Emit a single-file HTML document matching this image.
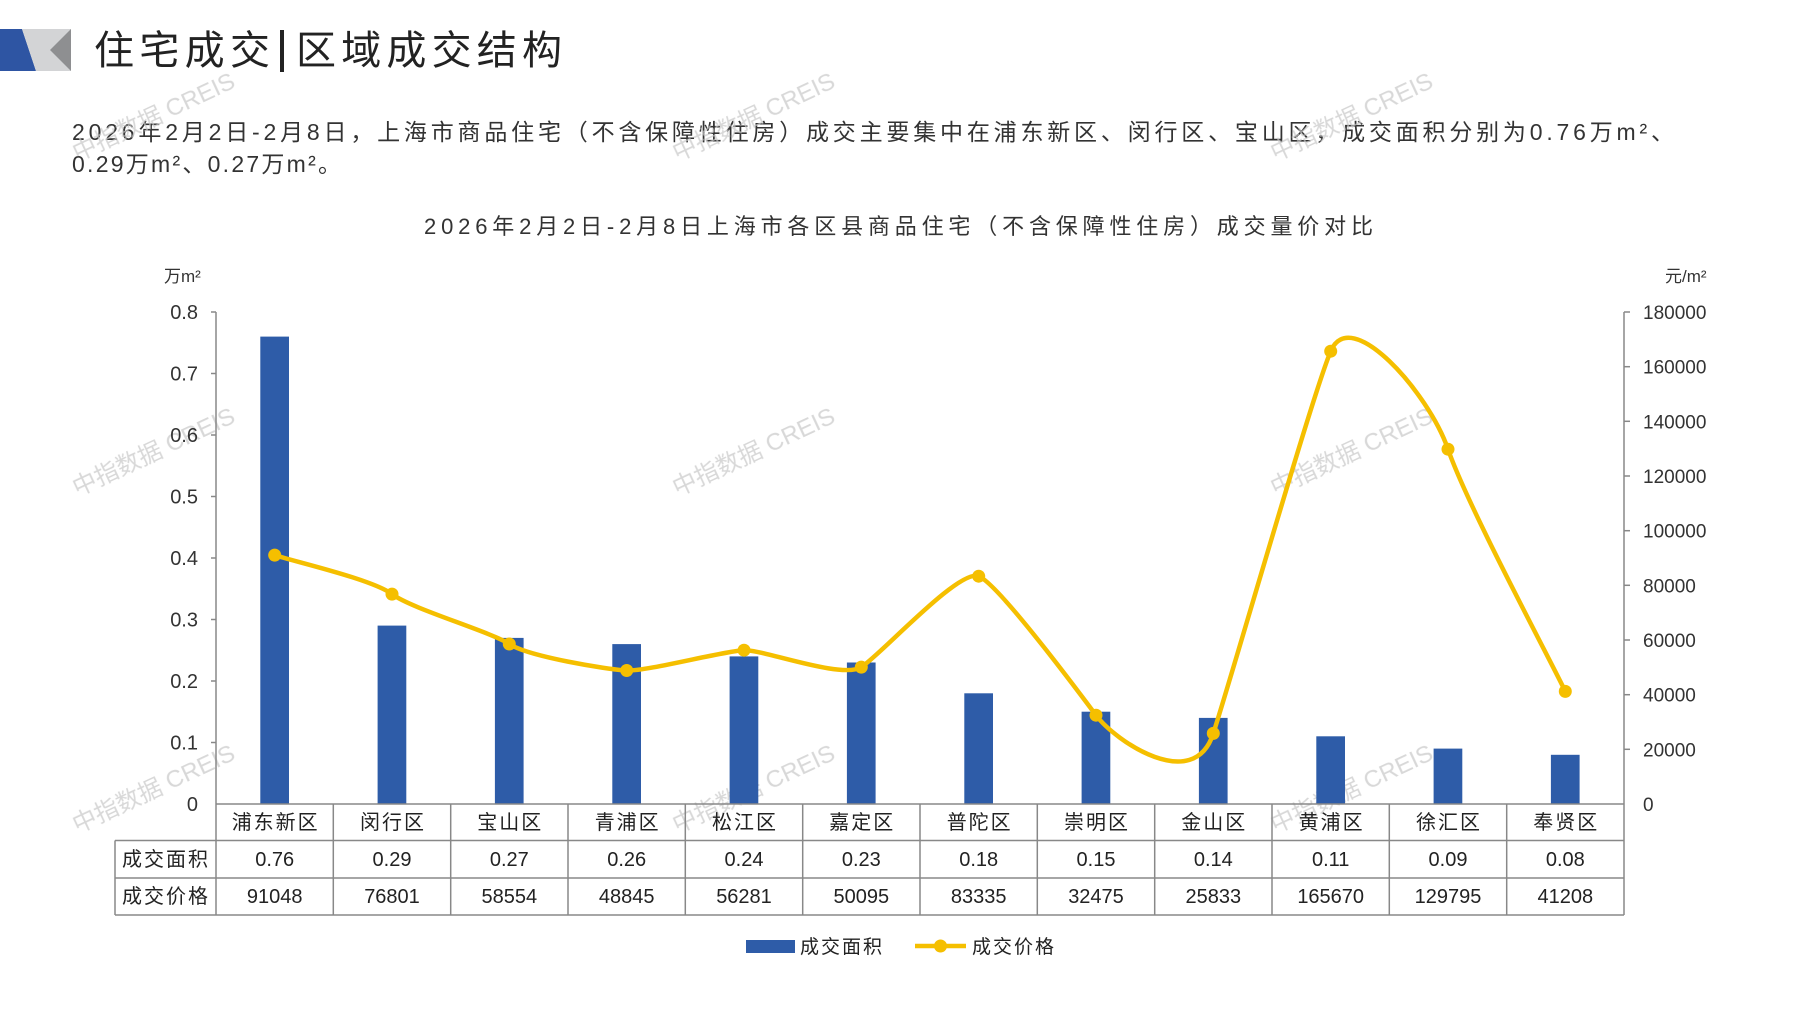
<!DOCTYPE html>
<html><head><meta charset="utf-8"><style>
html,body{margin:0;padding:0;background:#fff;}
body{width:1797px;height:1010px;overflow:hidden;font-family:"Liberation Sans","Noto Sans CJK SC",sans-serif;}
</style></head><body>
<svg width="1797" height="1010" viewBox="0 0 1797 1010" xmlns="http://www.w3.org/2000/svg" font-family="Liberation Sans, Noto Sans CJK SC, sans-serif">
<polygon points="0,29 22,29 36,71 0,71" fill="#2E55A3"/>
<polygon points="22,29 71,29 71,71 36,71" fill="#D3D4D6"/>
<polygon points="50,50 71,29 71,71" fill="#8E8F91"/>
<text x="94" y="64" font-size="40" fill="#222" font-family="Noto Sans CJK SC, sans-serif" textLength="176" lengthAdjust="spacing">住宅成交</text>
<rect x="280" y="30" width="4" height="42" fill="#222"/>
<text x="296" y="64" font-size="40" fill="#222" font-family="Noto Sans CJK SC, sans-serif" textLength="266" lengthAdjust="spacing">区域成交结构</text>
<text x="72" y="140" font-size="23" fill="#333" textLength="1602" lengthAdjust="spacing">2026年2月2日-2月8日，上海市商品住宅（不含保障性住房）成交主要集中在浦东新区、闵行区、宝山区，成交面积分别为0.76万m²、</text>
<text x="72" y="172" font-size="23" fill="#333" textLength="269" lengthAdjust="spacing">0.29万m²、0.27万m²。</text>
<text x="424" y="234" font-size="22" fill="#333" textLength="949" lengthAdjust="spacing">2026年2月2日-2月8日上海市各区县商品住宅（不含保障性住房）成交量价对比</text>
<g font-size="24" fill="#c8c8c8" opacity="0.7" text-anchor="middle">
<text transform="translate(157,124) rotate(-25)">中指数据 CREIS</text>
<text transform="translate(757,124) rotate(-25)">中指数据 CREIS</text>
<text transform="translate(1355,124) rotate(-25)">中指数据 CREIS</text>
<text transform="translate(157,459) rotate(-25)">中指数据 CREIS</text>
<text transform="translate(757,459) rotate(-25)">中指数据 CREIS</text>
<text transform="translate(1355,459) rotate(-25)">中指数据 CREIS</text>
<text transform="translate(157,796) rotate(-25)">中指数据 CREIS</text>
<text transform="translate(757,796) rotate(-25)">中指数据 CREIS</text>
<text transform="translate(1355,796) rotate(-25)">中指数据 CREIS</text>
</g>
<text x="164" y="282" font-size="17" fill="#333">万m²</text>
<text x="1665" y="282" font-size="17" fill="#333">元/m²</text>
<g stroke="#888" stroke-width="1.5">
<line x1="216" y1="312" x2="216" y2="804"/>
<line x1="211" y1="312" x2="216" y2="312"/><line x1="211" y1="373.5" x2="216" y2="373.5"/><line x1="211" y1="435" x2="216" y2="435"/><line x1="211" y1="496.5" x2="216" y2="496.5"/><line x1="211" y1="558" x2="216" y2="558"/><line x1="211" y1="619.5" x2="216" y2="619.5"/><line x1="211" y1="681" x2="216" y2="681"/><line x1="211" y1="742.5" x2="216" y2="742.5"/>
<line x1="1624" y1="312" x2="1624" y2="804"/>
<line x1="1624" y1="312" x2="1630" y2="312"/><line x1="1624" y1="366.7" x2="1630" y2="366.7"/><line x1="1624" y1="421.3" x2="1630" y2="421.3"/><line x1="1624" y1="476" x2="1630" y2="476"/><line x1="1624" y1="530.7" x2="1630" y2="530.7"/><line x1="1624" y1="585.3" x2="1630" y2="585.3"/><line x1="1624" y1="640" x2="1630" y2="640"/><line x1="1624" y1="694.7" x2="1630" y2="694.7"/><line x1="1624" y1="749.3" x2="1630" y2="749.3"/>
</g>
<g font-size="20" fill="#333" text-anchor="end">
<text x="198" y="319">0.8</text><text x="198" y="380.5">0.7</text><text x="198" y="442">0.6</text><text x="198" y="503.5">0.5</text><text x="198" y="565">0.4</text><text x="198" y="626.5">0.3</text><text x="198" y="688">0.2</text><text x="198" y="749.5">0.1</text><text x="198" y="811">0</text>
</g>
<g font-size="19" fill="#333" text-anchor="start">
<text x="1643" y="319">180000</text><text x="1643" y="373.7">160000</text><text x="1643" y="428.3">140000</text><text x="1643" y="483">120000</text><text x="1643" y="537.7">100000</text><text x="1643" y="592.3">80000</text><text x="1643" y="647">60000</text><text x="1643" y="701.7">40000</text><text x="1643" y="756.3">20000</text><text x="1643" y="811">0</text>
</g>
<g fill="#2E5CA8">
<rect x="260.3" y="336.6" width="28.7" height="467.4"/>
<rect x="377.6" y="625.6" width="28.7" height="178.4"/>
<rect x="494.9" y="637.9" width="28.7" height="166.1"/>
<rect x="612.3" y="644.1" width="28.7" height="159.9"/>
<rect x="729.6" y="656.4" width="28.7" height="147.6"/>
<rect x="846.9" y="662.5" width="28.7" height="141.5"/>
<rect x="964.3" y="693.3" width="28.7" height="110.7"/>
<rect x="1081.6" y="711.7" width="28.7" height="92.3"/>
<rect x="1198.9" y="717.9" width="28.7" height="86.1"/>
<rect x="1316.3" y="736.3" width="28.7" height="67.7"/>
<rect x="1433.6" y="748.6" width="28.7" height="55.4"/>
<rect x="1550.9" y="754.8" width="28.7" height="49.2"/>
</g>
<path d="M274.7,555.1 C294.3,561.6 372.4,579.3 392,594.1 C411.6,608.9 489.7,631.3 509.3,644.0 C528.9,656.7 607.1,669.5 626.7,670.5 C646.3,671.5 724.4,650.8 744,650.2 C763.6,649.6 841.7,679.4 861.3,667.1 C880.9,654.8 959.1,568.2 978.7,576.2 C998.3,584.2 1076.4,689.0 1096,715.2 C1115.6,741.4 1193.7,794.1 1213.3,733.4 C1232.9,672.7 1311.1,398.6 1330.7,351.2 C1350.3,303.8 1428.4,392.5 1448,449.2 C1467.6,505.9 1545.7,651.0 1565.3,691.4" fill="none" stroke="#F5BF00" stroke-width="4.5"/>
<g fill="#F5BF00">
<circle cx="274.7" cy="555.1" r="6.5"/><circle cx="392" cy="594.1" r="6.5"/><circle cx="509.3" cy="644" r="6.5"/><circle cx="626.7" cy="670.5" r="6.5"/><circle cx="744" cy="650.2" r="6.5"/><circle cx="861.3" cy="667.1" r="6.5"/><circle cx="978.7" cy="576.2" r="6.5"/><circle cx="1096" cy="715.2" r="6.5"/><circle cx="1213.3" cy="733.4" r="6.5"/><circle cx="1330.7" cy="351.2" r="6.5"/><circle cx="1448" cy="449.2" r="6.5"/><circle cx="1565.3" cy="691.4" r="6.5"/>
</g>
<g stroke="#888" stroke-width="1.5" fill="none">
<line x1="216" y1="804" x2="1624" y2="804"/>
<line x1="115" y1="840.5" x2="1624" y2="840.5"/>
<line x1="115" y1="878" x2="1624" y2="878"/>
<line x1="115" y1="915" x2="1624" y2="915"/>
<line x1="115" y1="840.5" x2="115" y2="915"/>
<line x1="216" y1="804" x2="216" y2="915"/><line x1="333.3" y1="804" x2="333.3" y2="915"/><line x1="450.7" y1="804" x2="450.7" y2="915"/><line x1="568" y1="804" x2="568" y2="915"/><line x1="685.3" y1="804" x2="685.3" y2="915"/><line x1="802.7" y1="804" x2="802.7" y2="915"/><line x1="920" y1="804" x2="920" y2="915"/><line x1="1037.3" y1="804" x2="1037.3" y2="915"/><line x1="1154.7" y1="804" x2="1154.7" y2="915"/><line x1="1272" y1="804" x2="1272" y2="915"/><line x1="1389.3" y1="804" x2="1389.3" y2="915"/><line x1="1506.7" y1="804" x2="1506.7" y2="915"/><line x1="1624" y1="804" x2="1624" y2="915"/>
</g>
<g font-size="20" fill="#222" text-anchor="middle" letter-spacing="2">
<text x="166" y="866">成交面积</text><text x="166" y="903">成交价格</text>
<text x="275.7" y="829">浦东新区</text><text x="393" y="829">闵行区</text><text x="510.3" y="829">宝山区</text><text x="627.7" y="829">青浦区</text><text x="745" y="829">松江区</text><text x="862.3" y="829">嘉定区</text><text x="979.7" y="829">普陀区</text><text x="1097" y="829">崇明区</text><text x="1214.3" y="829">金山区</text><text x="1331.7" y="829">黄浦区</text><text x="1449" y="829">徐汇区</text><text x="1566.3" y="829">奉贤区</text>
</g>
<g font-size="20" fill="#222" text-anchor="middle">
<text x="274.7" y="866">0.76</text><text x="392" y="866">0.29</text><text x="509.3" y="866">0.27</text><text x="626.7" y="866">0.26</text><text x="744" y="866">0.24</text><text x="861.3" y="866">0.23</text><text x="978.7" y="866">0.18</text><text x="1096" y="866">0.15</text><text x="1213.3" y="866">0.14</text><text x="1330.7" y="866">0.11</text><text x="1448" y="866">0.09</text><text x="1565.3" y="866">0.08</text>
<text x="274.7" y="903">91048</text><text x="392" y="903">76801</text><text x="509.3" y="903">58554</text><text x="626.7" y="903">48845</text><text x="744" y="903">56281</text><text x="861.3" y="903">50095</text><text x="978.7" y="903">83335</text><text x="1096" y="903">32475</text><text x="1213.3" y="903">25833</text><text x="1330.7" y="903">165670</text><text x="1448" y="903">129795</text><text x="1565.3" y="903">41208</text>
</g>
<rect x="746" y="940" width="49" height="13" fill="#2E5CA8"/>
<text x="800" y="953" font-size="19" fill="#222" letter-spacing="2">成交面积</text>
<line x1="915" y1="946" x2="966" y2="946" stroke="#F5BF00" stroke-width="4.5"/>
<circle cx="940.5" cy="946" r="6.5" fill="#F5BF00"/>
<text x="972" y="953" font-size="19" fill="#222" letter-spacing="2">成交价格</text>
</svg>
</body></html>
